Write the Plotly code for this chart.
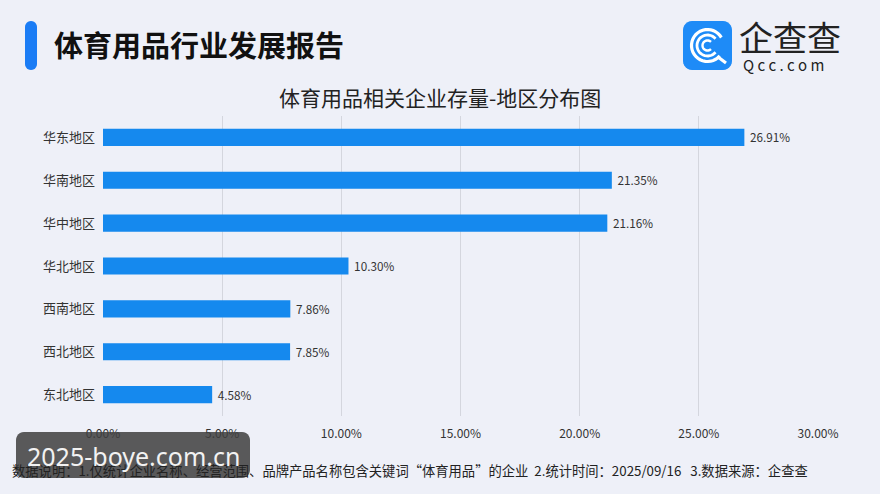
import math
import plotly.graph_objects as go

W, H = 880, 494
regions = ["华东地区", "华南地区", "华中地区", "华北地区", "西南地区", "西北地区", "东北地区"]
shares = [26.91, 21.35, 21.16, 10.30, 7.86, 7.85, 4.58]
tick_vals = [0, 5, 10, 15, 20, 25, 30]
tick_text = ["0.00%", "5.00%", "10.00%", "15.00%", "20.00%", "25.00%", "30.00%"]

FONT = "Noto Sans CJK SC"

def px(x):
    return x / W

def py(y):
    return 1 - y / H

def rrect(x0, y0, x1, y1, r):
    pts = []
    corners = [(x1 - r, y0 + r, -90, 0), (x1 - r, y1 - r, 0, 90),
               (x0 + r, y1 - r, 90, 180), (x0 + r, y0 + r, 180, 270)]
    for cx, cy, a0, a1 in corners:
        for i in range(7):
            a = math.radians(a0 + (a1 - a0) * i / 6)
            pts.append((cx + r * math.cos(a), cy + r * math.sin(a)))
    return "M " + " L ".join(f"{px(x):.5f},{py(y):.5f}" for x, y in pts) + " Z"

def arc(cx, cy, r, a0, a1, n=30):
    pts = []
    for i in range(n + 1):
        a = math.radians(a0 + (a1 - a0) * i / n)
        pts.append((cx + r * math.cos(a), cy + r * math.sin(a)))
    return "M " + " L ".join(f"{px(x):.5f},{py(y):.5f}" for x, y in pts)

fig = go.Figure()
fig.add_trace(go.Bar(
    y=regions, x=shares, orientation="h",
    marker=dict(color="#1589EE", line=dict(width=0)),
    width=0.4,
    text=[f"\u00a0{v:.2f}%" for v in shares],
    textposition="outside",
    textfont=dict(size=13, color="#333333", family=FONT),
    cliponaxis=False,
))

fig.update_layout(
    width=W, height=H,
    margin=dict(l=0, r=0, t=0, b=0, autoexpand=False),
    paper_bgcolor="#EEF0F8",
    plot_bgcolor="rgba(0,0,0,0)",
    showlegend=False,
    font=dict(family=FONT, color="#333333"),
    xaxis=dict(
        domain=[px(103), px(818)], range=[0, 30],
        tickvals=tick_vals, ticktext=tick_text,
        showgrid=True, gridcolor="#D4D6DE", gridwidth=1,
        zeroline=False, showline=False, ticks="",
        tickfont=dict(size=12, color="#333333", family=FONT),
        ticklabelstandoff=9, automargin=False,
    ),
    yaxis=dict(
        domain=[py(416), py(116)],
        autorange="reversed",
        showgrid=False, zeroline=False, showline=False, ticks="",
        tickfont=dict(size=13, color="#333333", family=FONT),
        ticklabelstandoff=7, automargin=False,
    ),
)

shapes = []
# title accent bar
shapes.append(dict(type="path", path=rrect(25, 21, 37, 70, 6), xref="paper", yref="paper",
                   fillcolor="#1A7CF5", line=dict(width=0), layer="above"))
# logo square
shapes.append(dict(type="path", path=rrect(683, 21, 732, 70, 9), xref="paper", yref="paper",
                   fillcolor="#1E8BF7", line=dict(width=0), layer="above"))
cx, cy = 707.5, 45.5
for r, a0, a1, w in [(16, 40, 330, 3.2), (10.5, 40, 320, 2.8), (5, 45, 315, 2.4)]:
    shapes.append(dict(type="path", path=arc(cx, cy, r, a0, a1), xref="paper", yref="paper",
                       line=dict(color="white", width=w), layer="above"))
shapes.append(dict(type="line", xref="paper", yref="paper", x0=px(718), y0=py(57), x1=px(726), y1=py(63),
                   line=dict(color="white", width=3.2), layer="above"))
# watermark box
shapes.append(dict(type="path", path=rrect(16, 432, 250, 478, 8), xref="paper", yref="paper",
                   fillcolor="rgba(62,62,62,0.85)", line=dict(width=0), layer="above"))
fig.update_layout(shapes=shapes)

ann = []
ann.append(dict(text="<b>体育用品行业发展报告</b>", x=px(52), y=py(44), xref="paper", yref="paper",
                xanchor="left", yanchor="middle", showarrow=False,
                font=dict(size=29, color="#111111", family=FONT)))
ann.append(dict(text="体育用品相关企业存量-地区分布图", x=px(440), y=py(97), xref="paper", yref="paper",
                xanchor="center", yanchor="middle", showarrow=False,
                font=dict(size=21, color="#222222", family=FONT)))
ann.append(dict(text="企查查", x=px(737), y=py(36), xref="paper", yref="paper",
                xanchor="left", yanchor="middle", showarrow=False,
                font=dict(size=34, color="#222222", family=FONT)))
ann.append(dict(text="Q\u00a0c\u00a0c\u00a0.\u00a0c\u00a0o\u00a0m", x=px(741), y=py(64), xref="paper", yref="paper",
                xanchor="left", yanchor="middle", showarrow=False,
                font=dict(size=15, color="#222222", family=FONT)))
ann.append(dict(text="数据说明：1.仅统计企业名称、经营范围、品牌产品名称包含关键词“体育用品”的企业  2.统计时间：2025/09/16   3.数据来源：企查查",
                x=px(10), y=py(470), xref="paper", yref="paper",
                xanchor="left", yanchor="middle", showarrow=False,
                font=dict(size=13.3, color="#222222", family=FONT)))
ann.append(dict(text="2025-boye.com.cn", x=px(133), y=py(456), xref="paper", yref="paper",
                xanchor="center", yanchor="middle", showarrow=False,
                font=dict(size=25, color="#F2F2F2", family="Noto Sans, sans-serif")))
fig.update_layout(annotations=ann)

fig.write_html("out.html")
